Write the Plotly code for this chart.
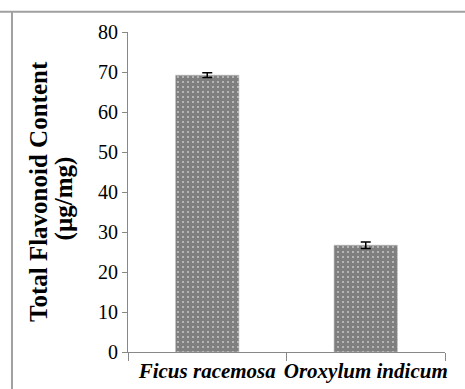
import plotly.graph_objects as go

categories = ["Ficus racemosa", "Oroxylum indicum"]
flavonoid = [69.2, 26.7]
flavonoid_err = [0.6, 0.8]
y_ticks = [0, 10, 20, 30, 40, 50, 60, 70, 80]

fig = go.Figure()
fig.add_trace(go.Bar(
    x=categories,
    y=flavonoid,
    error_y=dict(type="data", array=flavonoid_err, color="black", thickness=1.5, width=5),
    marker=dict(
        color="white",
        line=dict(color="#c0c0c0", width=0.6),
        pattern=dict(shape=".", fgcolor="black", bgcolor="white", size=5, solidity=0.85),
    ),
))

serif = "Liberation Serif, Times New Roman, serif"

fig.update_layout(
    width=465, height=389,
    margin=dict(l=128, r=20, t=32, b=37),
    paper_bgcolor="white", plot_bgcolor="white",
    bargap=0.6,
    showlegend=False,
    font=dict(family=serif, color="black"),
    shapes=[
        dict(type="line", xref="paper", yref="paper", x0=-0.5, x1=1.2, y0=1.063, y1=1.063,
             line=dict(color="#a0a0a0", width=2)),
        dict(type="line", xref="paper", yref="paper", x0=-0.366, x1=-0.366, y0=-0.2, y1=1.063,
             line=dict(color="#a0a0a0", width=2)),
    ],
    annotations=[
        dict(text="<b>Total Flavonoid Content</b>", xref="paper", yref="paper",
             x=0, y=0.5, xshift=-90, textangle=-90, showarrow=False,
             xanchor="center", yanchor="middle",
             font=dict(family=serif, size=25, color="black")),
        dict(text="<b>(µg/mg)</b>", xref="paper", yref="paper",
             x=0, y=0.48, xshift=-64, textangle=-90, showarrow=False,
             xanchor="center", yanchor="middle",
             font=dict(family=serif, size=25, color="black")),
    ],
)

fig.update_yaxes(
    range=[0, 80], tickvals=y_ticks,
    showgrid=False, zeroline=False, automargin=False,
    showline=True, linecolor="#888888", linewidth=1,
    ticks="outside", ticklen=5, tickcolor="#888888",
    tickfont=dict(family=serif, size=20, color="black"),
)

fig.update_xaxes(
    tickvals=categories,
    ticktext=["<b><i>" + c + "</i></b>" for c in categories],
    tickson="boundaries", automargin=False, tickangle=0,
    showgrid=False,
    showline=True, linecolor="#888888", linewidth=1,
    ticks="outside", ticklen=8, tickcolor="#888888",
    tickfont=dict(family=serif, size=21, color="black"),
)

fig.write_html("out.html")
